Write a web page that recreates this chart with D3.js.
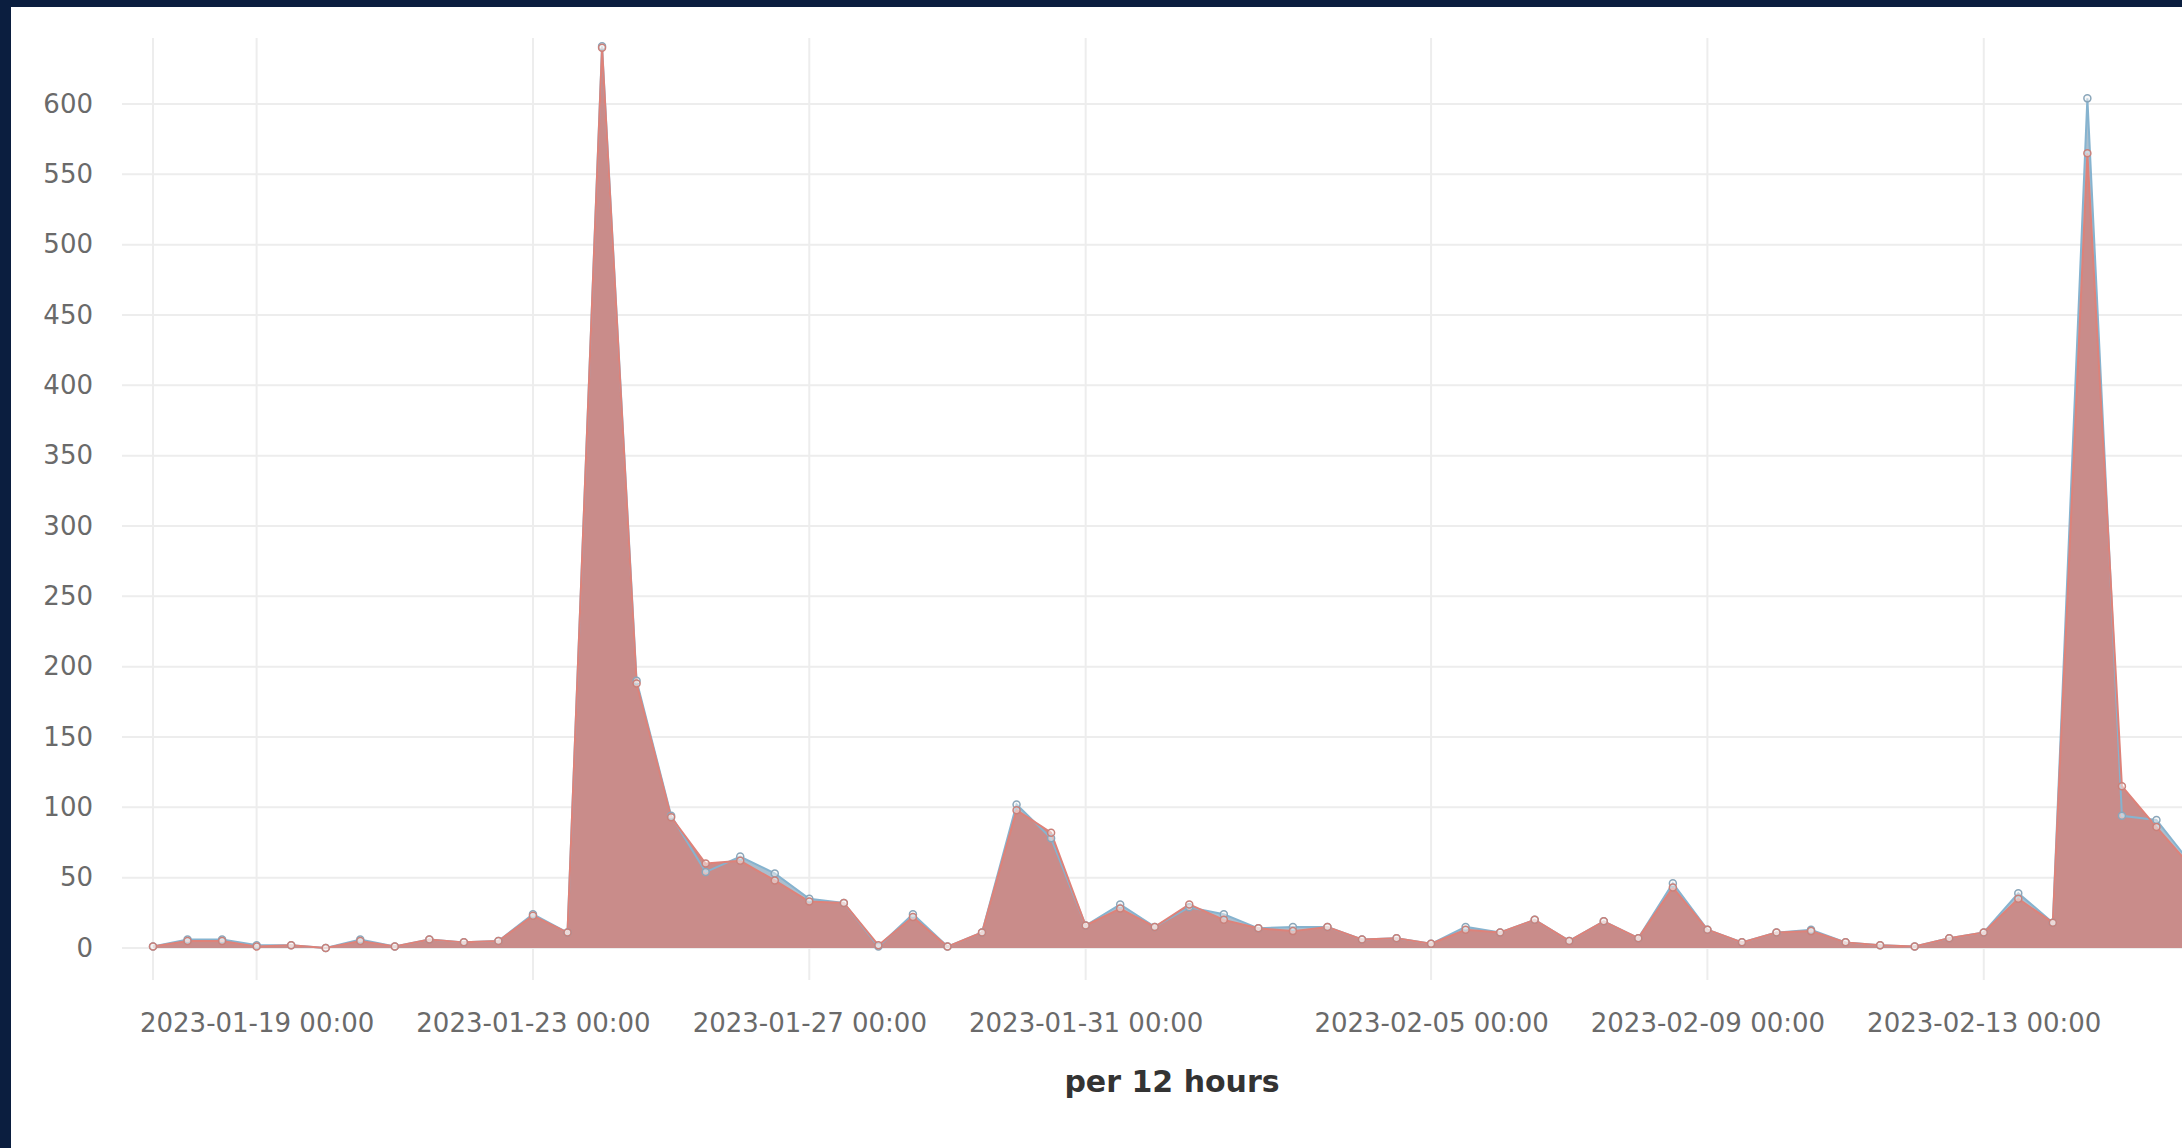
<!DOCTYPE html>
<html>
<head>
<meta charset="utf-8">
<script src="https://cdnjs.cloudflare.com/ajax/libs/d3/7.8.5/d3.min.js"></script>
<style>
    html, body { margin: 0; padding: 0; background: #0b1e3f; overflow: hidden; }
    svg { display: block; }
    .tick text { font-family: "DejaVu Sans", sans-serif; font-size: 26px; fill: #6a6a6a; }
</style>
</head>
<body>
<script>
// 12 hour buckets
var times = [
    "2023-01-17 12:00", "2023-01-18 00:00", "2023-01-18 12:00", "2023-01-19 00:00",
    "2023-01-19 12:00", "2023-01-20 00:00", "2023-01-20 12:00", "2023-01-21 00:00",
    "2023-01-21 12:00", "2023-01-22 00:00", "2023-01-22 12:00", "2023-01-23 00:00",
    "2023-01-23 12:00", "2023-01-24 00:00", "2023-01-24 12:00", "2023-01-25 00:00",
    "2023-01-25 12:00", "2023-01-26 00:00", "2023-01-26 12:00", "2023-01-27 00:00",
    "2023-01-27 12:00", "2023-01-28 00:00", "2023-01-28 12:00", "2023-01-29 00:00",
    "2023-01-29 12:00", "2023-01-30 00:00", "2023-01-30 12:00", "2023-01-31 00:00",
    "2023-01-31 12:00", "2023-02-01 00:00", "2023-02-01 12:00", "2023-02-02 00:00",
    "2023-02-02 12:00", "2023-02-03 00:00", "2023-02-03 12:00", "2023-02-04 00:00",
    "2023-02-04 12:00", "2023-02-05 00:00", "2023-02-05 12:00", "2023-02-06 00:00",
    "2023-02-06 12:00", "2023-02-07 00:00", "2023-02-07 12:00", "2023-02-08 00:00",
    "2023-02-08 12:00", "2023-02-09 00:00", "2023-02-09 12:00", "2023-02-10 00:00",
    "2023-02-10 12:00", "2023-02-11 00:00", "2023-02-11 12:00", "2023-02-12 00:00",
    "2023-02-12 12:00", "2023-02-13 00:00", "2023-02-13 12:00", "2023-02-14 00:00",
    "2023-02-14 12:00", "2023-02-15 00:00", "2023-02-15 12:00", "2023-02-16 00:00"
];

var blueValues = [
    1, 6, 6, 2, 2, 0, 6, 1, 6, 4, 5, 24, 11, 641, 190, 94, 54, 65, 53, 35,
    32, 1, 24, 1, 11, 102, 78, 16, 31, 15, 29, 24, 14, 15, 15, 6, 7, 3, 15, 11,
    20, 5, 19, 7, 46, 13, 4, 11, 13, 4, 2, 1, 7, 11, 39, 18, 604, 94, 91, 60
];

var redValues = [
    1, 5, 5, 1, 2, 0, 5, 1, 6, 4, 5, 23, 11, 640, 188, 93, 60, 62, 48, 33,
    32, 2, 22, 1, 11, 98, 82, 16, 28, 15, 31, 20, 14, 12, 15, 6, 7, 3, 13, 11,
    20, 5, 19, 7, 43, 13, 4, 11, 12, 4, 2, 1, 7, 11, 35, 18, 565, 115, 86, 58
];

var xTickLabels = [
    "2023-01-19 00:00", "2023-01-23 00:00", "2023-01-27 00:00", "2023-01-31 00:00",
    "2023-02-05 00:00", "2023-02-09 00:00", "2023-02-13 00:00"
];
var yTickValues = [0, 50, 100, 150, 200, 250, 300, 350, 400, 450, 500, 550, 600];
var xTitle = "per 12 hours";

var windowWidth = 2182,
    windowHeight = 1148;

var parseTime = d3.utcParse("%Y-%m-%d %H:%M"),
    formatTime = d3.utcFormat("%Y-%m-%d %H:%M");

var dates = times.map(parseTime);
var blueData = dates.map(function (d, i) { return {date: d, value: blueValues[i]}; });
var redData = dates.map(function (d, i) { return {date: d, value: redValues[i]}; });

// plot runs a little past the right edge of the window, like the screenshot
var left = 153, right = 2191, baseY = 948, topY = 104;

var x = d3.scaleUtc()
    .domain([dates[0], dates[dates.length - 1]])
    .range([left, right]);

var y = d3.scaleLinear()
    .domain([0, 600])
    .range([baseY, topY]);

var svg = d3.select("body").append("svg")
    .attr("width", windowWidth)
    .attr("height", windowHeight);

// dark frame on top / left, white card
svg.append("rect")
    .attr("x", 11).attr("y", 7)
    .attr("width", windowWidth).attr("height", windowHeight)
    .attr("fill", "#ffffff");

// grid
var grid = svg.append("g").attr("class", "grid");

grid.selectAll("line.h")
    .data(yTickValues)
    .enter().append("line")
    .attr("class", "h")
    .attr("x1", left - 31).attr("x2", windowWidth)
    .attr("y1", function (d) { return y(d); })
    .attr("y2", function (d) { return y(d); })
    .attr("stroke", "#ededed")
    .attr("stroke-width", 2);

var xTickDates = xTickLabels.map(parseTime);

grid.selectAll("line.v")
    .data([dates[0]].concat(xTickDates))
    .enter().append("line")
    .attr("class", "v")
    .attr("x1", function (d) { return x(d); })
    .attr("x2", function (d) { return x(d); })
    .attr("y1", 38).attr("y2", 980)
    .attr("stroke", "#ededed")
    .attr("stroke-width", 2);

// areas: blue below, red over it
var area = d3.area()
    .x(function (d) { return x(d.date); })
    .y0(y(0))
    .y1(function (d) { return y(d.value); });

var line = d3.line()
    .x(function (d) { return x(d.date); })
    .y(function (d) { return y(d.value); });

svg.append("path")
    .datum(blueData)
    .attr("d", area)
    .attr("fill", "#a9bfcf");

svg.append("path")
    .datum(redData)
    .attr("d", area)
    .attr("fill", "#c98c8a");

svg.append("path")
    .datum(blueData)
    .attr("d", line)
    .attr("fill", "none")
    .attr("stroke", "#86b3cf")
    .attr("stroke-width", 2);

svg.append("path")
    .datum(redData)
    .attr("d", line)
    .attr("fill", "none")
    .attr("stroke", "#de8279")
    .attr("stroke-width", 2);

[[blueData, "#8aa6ba"], [redData, "#c9807a"]].forEach(function (s) {
    svg.append("g")
        .selectAll("circle")
        .data(s[0])
        .enter().append("circle")
        .attr("cx", function (d) { return x(d.date); })
        .attr("cy", function (d) { return y(d.value); })
        .attr("r", 3.5)
        .attr("fill", "#f4f4f4")
        .attr("fill-opacity", 0.5)
        .attr("stroke", s[1])
        .attr("stroke-width", 1.5);
});

// axes (labels only, grid is drawn above)
var yAxis = d3.axisLeft(y)
    .tickValues(yTickValues)
    .tickSize(0)
    .tickPadding(60);

svg.append("g")
    .attr("transform", "translate(" + left + ",0)")
    .call(yAxis)
    .call(function (g) { g.select(".domain").remove(); });

var xAxis = d3.axisBottom(x)
    .tickValues(xTickDates)
    .tickFormat(formatTime)
    .tickSize(0)
    .tickPadding(66);

svg.append("g")
    .attr("transform", "translate(0," + baseY + ")")
    .call(xAxis)
    .call(function (g) { g.select(".domain").remove(); });

svg.append("text")
    .attr("x", (left + right) / 2)
    .attr("y", 1092)
    .attr("text-anchor", "middle")
    .attr("font-family", "DejaVu Sans, sans-serif")
    .attr("font-weight", "bold")
    .attr("font-size", 30)
    .attr("fill", "#333333")
    .text(xTitle);
</script>
</body>
</html>
